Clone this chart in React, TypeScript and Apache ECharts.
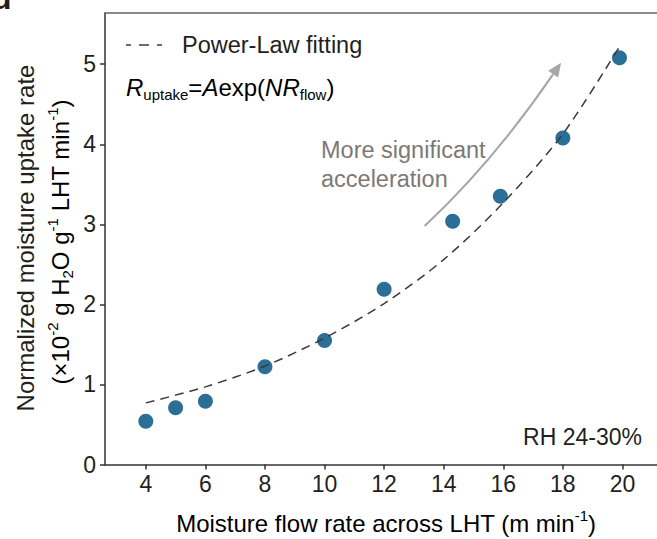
import React, { useEffect, useRef } from "react";
import * as echarts from "echarts";

// Measured data (points)
const flowRate = [4, 5, 6, 8, 10, 12, 14.3, 15.9, 18, 19.9];
const uptakeRate = [0.54, 0.71, 0.79, 1.22, 1.55, 2.19, 3.04, 3.35, 4.08, 5.08];

// Power-law fitting curve
const fitFlow = [4, 6, 8, 10, 12, 14, 16, 18, 19.9];
const fitRate = [0.77, 0.97, 1.23, 1.58, 2.01, 2.56, 3.27, 4.13, 5.22];

// Tick labels
const xTicks = [4, 6, 8, 10, 12, 14, 16, 18, 20];
const yTicks = [0, 1, 2, 3, 4, 5];

// Annotation arrow in data coordinates: start, control, tip
const arrowStart = [13.36, 2.98];
const arrowCtrl = [15.64, 3.77];
const arrowTip = [17.94, 5.02];

const FONT = 'Arial, "Liberation Sans", Helvetica, sans-serif';
const INK = "#231f20";

export default function App() {
  const ref = useRef<HTMLDivElement>(null);

  useEffect(() => {
    document.body.style.margin = "0";
    if (!ref.current) return;
    const chart = echarts.init(ref.current, undefined, { renderer: "svg" });

    const xMin = 2.63;
    const xMax = 21.16;
    const option: any = {
      animation: false,
      backgroundColor: "#ffffff",
      grid: { left: 105, right: 0, top: 13, bottom: 74.5, containLabel: false },
      xAxis: [
        {
          type: "value",
          min: xMin,
          max: xMax,
          position: "bottom",
          axisLine: { show: true, lineStyle: { color: "#333", width: 1.5 } },
          axisTick: { show: true, inside: false, length: 5, customValues: xTicks, lineStyle: { color: "#333", width: 1.5 } },
          axisLabel: { customValues: xTicks, margin: 8, fontSize: 23, color: INK, fontFamily: FONT },
          splitLine: { show: false },
        },
        {
          type: "value",
          min: xMin,
          max: xMax,
          position: "top",
          axisLine: { show: true, lineStyle: { color: "#666", width: 1.5 } },
          axisTick: { show: false },
          axisLabel: { show: false },
          splitLine: { show: false },
        },
      ],
      yAxis: {
        type: "value",
        min: 0,
        max: 5.64,
        axisLine: { show: true, lineStyle: { color: "#333", width: 1.5 } },
        axisTick: { show: true, inside: false, length: 5, customValues: yTicks, lineStyle: { color: "#333", width: 1.5 } },
        axisLabel: { customValues: yTicks, margin: 9, fontSize: 23, color: INK, fontFamily: FONT },
        splitLine: { show: false },
      },
      series: [
        {
          type: "scatter",
          data: flowRate.map((x, i) => [x, uptakeRate[i]]),
          symbol: "circle",
          symbolSize: 15,
          itemStyle: { color: "#2b6f97", opacity: 1 },
          z: 2,
        },
        {
          type: "line",
          data: fitFlow.map((x, i) => [x, fitRate[i]]),
          showSymbol: false,
          symbol: "none",
          smooth: 0.3,
          lineStyle: { color: "#3a3a3a", width: 1.5, type: [9, 6] },
          z: 3,
        },
      ],
    };
    chart.setOption(option);

    const p0 = chart.convertToPixel({ gridIndex: 0 }, arrowStart) as number[];
    const pc = chart.convertToPixel({ gridIndex: 0 }, arrowCtrl) as number[];
    const pt = chart.convertToPixel({ gridIndex: 0 }, arrowTip) as number[];
    let dx = pt[0] - pc[0];
    let dy = pt[1] - pc[1];
    const len = Math.sqrt(dx * dx + dy * dy);
    dx /= len;
    dy /= len;
    const headLen = 14;
    const headHalf = 6;
    const bx = pt[0] - dx * headLen;
    const by = pt[1] - dy * headLen;
    const nx = -dy;
    const ny = dx;

    const sup = { fontSize: 15, verticalAlign: "top", lineHeight: 14, fontFamily: FONT, color: INK };
    const sub = { fontSize: 15, verticalAlign: "bottom", lineHeight: 14, fontFamily: FONT, color: INK };
    const norm = { fontSize: 24, lineHeight: 30, fontFamily: FONT, color: INK };
    const ital = { fontSize: 24, lineHeight: 30, fontFamily: FONT, color: INK, fontStyle: "italic" };

    chart.setOption({
      graphic: [
        // panel letter (cropped, as in the reference)
        {
          type: "text",
          x: -8,
          y: 14,
          style: { text: "d", fontSize: 32, fontWeight: "bold", fill: INK, fontFamily: FONT, verticalAlign: "bottom" },
        },
        // legend
        {
          type: "line",
          shape: { x1: 126, y1: 45, x2: 170, y2: 45 },
          style: { stroke: "#3a3a3a", lineWidth: 1.5, lineDash: [5, 8, 10, 8, 5, 40] },
        },
        {
          type: "text",
          x: 182,
          y: 45,
          style: { text: "Power-Law fitting", fontSize: 23.5, fill: INK, fontFamily: FONT, verticalAlign: "middle" },
        },
        {
          type: "text",
          x: 126,
          y: 87,
          style: {
            text: "{i|R}{sub|uptake}{n|=}{i|A}{n|exp(}{i|NR}{sub|flow}{n|)}",
            verticalAlign: "middle",
            rich: { i: ital, n: norm, sub },
          },
        },
        // annotation
        {
          type: "text",
          x: 321,
          y: 150,
          style: { text: "More significant", fontSize: 23.5, fill: "#7d7878", fontFamily: FONT, verticalAlign: "middle" },
        },
        {
          type: "text",
          x: 321,
          y: 179,
          style: { text: "acceleration", fontSize: 23.5, fill: "#7d7878", fontFamily: FONT, verticalAlign: "middle" },
        },
        {
          type: "bezierCurve",
          shape: { x1: p0[0], y1: p0[1], x2: bx, y2: by, cpx1: pc[0], cpy1: pc[1] },
          style: { stroke: "#a6a6a6", lineWidth: 2, fill: null },
        },
        {
          type: "polygon",
          shape: {
            points: [
              [pt[0], pt[1]],
              [bx + nx * headHalf, by + ny * headHalf],
              [bx - nx * headHalf, by - ny * headHalf],
            ],
          },
          style: { fill: "#a6a6a6", stroke: "none" },
        },
        {
          type: "text",
          x: 642,
          y: 437,
          style: { text: "RH 24-30%", fontSize: 23, fill: INK, fontFamily: FONT, align: "right", verticalAlign: "middle" },
        },
        // x axis title
        {
          type: "text",
          x: 386,
          y: 523,
          style: {
            text: "{n|Moisture flow rate across LHT (m min}{s|-1}{n|)}",
            align: "center",
            verticalAlign: "middle",
            rich: { n: norm, s: sup },
          },
        },
        // y axis title, two lines
        {
          type: "text",
          x: 25,
          y: 238,
          rotation: Math.PI / 2,
          style: {
            text: "Normalized moisture uptake rate",
            fontSize: 24,
            fill: INK,
            fontFamily: FONT,
            align: "center",
            verticalAlign: "middle",
          },
        },
        {
          type: "text",
          x: 60,
          y: 242,
          rotation: Math.PI / 2,
          style: {
            text: "{n|(×10}{s|-2}{n| g H}{b|2}{n|O g}{s|-1}{n| LHT min}{s|-1}{n|)}",
            align: "center",
            verticalAlign: "middle",
            rich: { n: norm, s: sup, b: sub },
          },
        },
      ],
    });

    return () => chart.dispose();
  }, []);

  return <div ref={ref} style={{ width: 657, height: 539 }} />;
}
